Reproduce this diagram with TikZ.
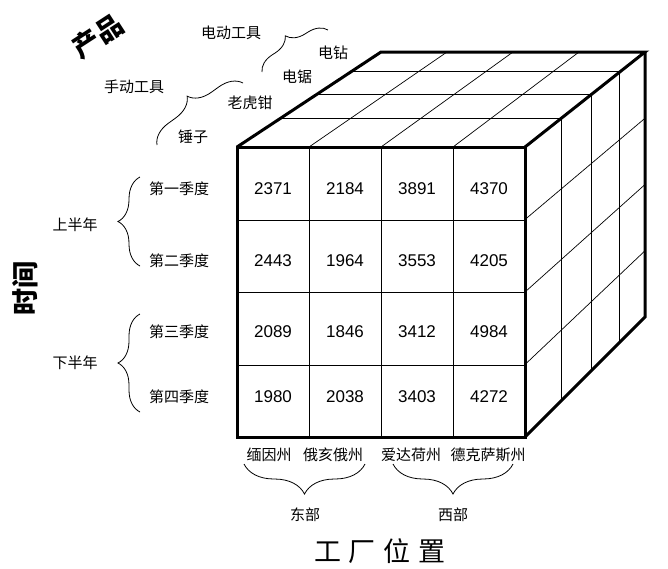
\documentclass[tikz,border=0pt]{standalone}
\usepackage{fontspec}
\setmainfont{Liberation Sans}
\newfontfamily\cjk{Noto Sans CJK SC}
\usetikzlibrary{calc,decorations.pathreplacing}
\begin{document}
\begin{tikzpicture}[x=1pt, y=-1pt, rim/.style={line width=3pt},
    seam/.style={line width=1pt}, slant/.style={line width=0.7pt},
    num/.style={inner sep=0pt, font=\fontsize{17}{20}\selectfont},
    lab/.style={inner sep=0pt, font=\cjk\fontsize{15}{18}\selectfont},
    big/.style={inner sep=0pt, font=\cjk\bfseries\fontsize{27}{30}\selectfont},
    grp/.style={decorate, decoration={brace, amplitude=#1}, line width=0.8pt},
    grp/.default=20]
    \useasboundingbox (0,0) rectangle (668,568);
    \coordinate (ftl) at (237,147); \coordinate (ftr) at (525,147);
    \coordinate (fbr) at (525,437); \coordinate (fbl) at (237,437);
    \coordinate (btl) at (381,52); \coordinate (btr) at (645,52);
    \coordinate (bbr) at (645,317);

    \begin{scope}[seam]
      \draw (309,147) -- (309,437); \draw (381,147) -- (381,437);
      \draw (453,147) -- (453,437); \draw (237,220) -- (525,220);
      \draw (237,292) -- (525,292); \draw (237,365) -- (525,365);
      \draw ($(ftl)!0.3!(btl)$) -- ($(ftr)!0.3!(btr)$);
      \draw ($(ftl)!0.55!(btl)$) -- ($(ftr)!0.55!(btr)$);
      \draw ($(ftl)!0.79!(btl)$) -- ($(ftr)!0.79!(btr)$);
      \draw ($(ftr)!0.3!(btr)$) -- ($(fbr)!0.3!(bbr)$);
      \draw ($(ftr)!0.55!(btr)$) -- ($(fbr)!0.55!(bbr)$);
      \draw ($(ftr)!0.79!(btr)$) -- ($(fbr)!0.79!(bbr)$);
    \end{scope}
    \begin{scope}[slant]
      \draw ($(ftl)!0.25!(ftr)$) -- ($(btl)!0.25!(btr)$);
      \draw ($(ftl)!0.5!(ftr)$) -- ($(btl)!0.5!(btr)$);
      \draw ($(ftl)!0.75!(ftr)$) -- ($(btl)!0.75!(btr)$);
      \draw ($(ftr)!0.25!(fbr)$) -- ($(btr)!0.25!(bbr)$);
      \draw ($(ftr)!0.5!(fbr)$) -- ($(btr)!0.5!(bbr)$);
      \draw ($(ftr)!0.75!(fbr)$) -- ($(btr)!0.75!(bbr)$);
    \end{scope}
    \draw [rim] (ftl) rectangle (fbr); \draw [rim] (ftl) -- (btl) -- (btr)
    -- (ftr); \draw [rim] (btr) -- (bbr) -- (fbr);

    \begin{scope}[every node/.style={num}]
      \node (a1) at (273,189) {2371}; \node (a2) at (345,189) {2184};
      \node (a3) at (417,189) {3891}; \node (a4) at (489,189) {4370};
      \node (b1) at (273,261) {2443}; \node (b2) at (345,261) {1964};
      \node (b3) at (417,261) {3553}; \node (b4) at (489,261) {4205};
      \node (c1) at (273,332) {2089}; \node (c2) at (345,332) {1846};
      \node (c3) at (417,332) {3412}; \node (c4) at (489,332) {4984};
      \node (d1) at (273,397) {1980}; \node (d2) at (345,397) {2038};
      \node (d3) at (417,397) {3403}; \node (d4) at (489,397) {4272};
    \end{scope}

    \begin{scope}[every node/.style={lab}]
      \node (q1) at (179,189) {第一季度}; \node (q2) at (179,261) {第二季度};
      \node (q3) at (179,332) {第三季度}; \node (q4) at (179,397) {第四季度};
      \node (h1) at (75,225) {上半年}; \node (h2) at (75,363) {下半年};
      \node (s1) at (269,455) {缅因州}; \node (s2) at (333,455) {俄亥俄州};
      \node (s3) at (411,455) {爱达荷州}; \node (s4) at (488,455) {德克萨斯州};
      \node (east) at (305,515) {东部}; \node (west) at (453,515) {西部};
      \node (power) at (231,33) {电动工具}; \node (drill) at (333,53) {电钻};
      \node (saw) at (297,77) {电锯}; \node (hand) at (134,87) {手动工具};
      \node (pliers) at (250,103) {老虎钳}; \node (hammer) at (193,137) {锤子};
    \end{scope}

    \node [big, rotate=33] (product) at (98,36) {产品};
    \node [big, rotate=90] (time) at (25,288) {时间};
    \node [big, font=\cjk\fontsize{27}{30}\selectfont] (place) at (380,551)
    {工\hspace{8pt}厂\hspace{8pt}位\hspace{8pt}置};

    \coordinate (u1) at (140,266); \coordinate (u2) at (140,177);
    \coordinate (l1) at (140,412); \coordinate (l2) at (140,314);
    \coordinate (e1) at (365,464); \coordinate (e2) at (244,464);
    \coordinate (w1) at (513,464); \coordinate (w2) at (393,464);
    \coordinate (p1) at (262,72); \coordinate (p2) at (328,30);
    \coordinate (m1) at (157,145); \coordinate (m2) at (243,83);
    \draw [grp=22] (u1) -- (u2); \draw [grp=22] (l1) -- (l2);
    \draw [grp=30] (e1) -- (e2); \draw [grp=30] (w1) -- (w2);
    \draw [grp=18] (p1) -- (p2); \draw [grp=22] (m1) -- (m2);
  \end{tikzpicture}
\end{document}
